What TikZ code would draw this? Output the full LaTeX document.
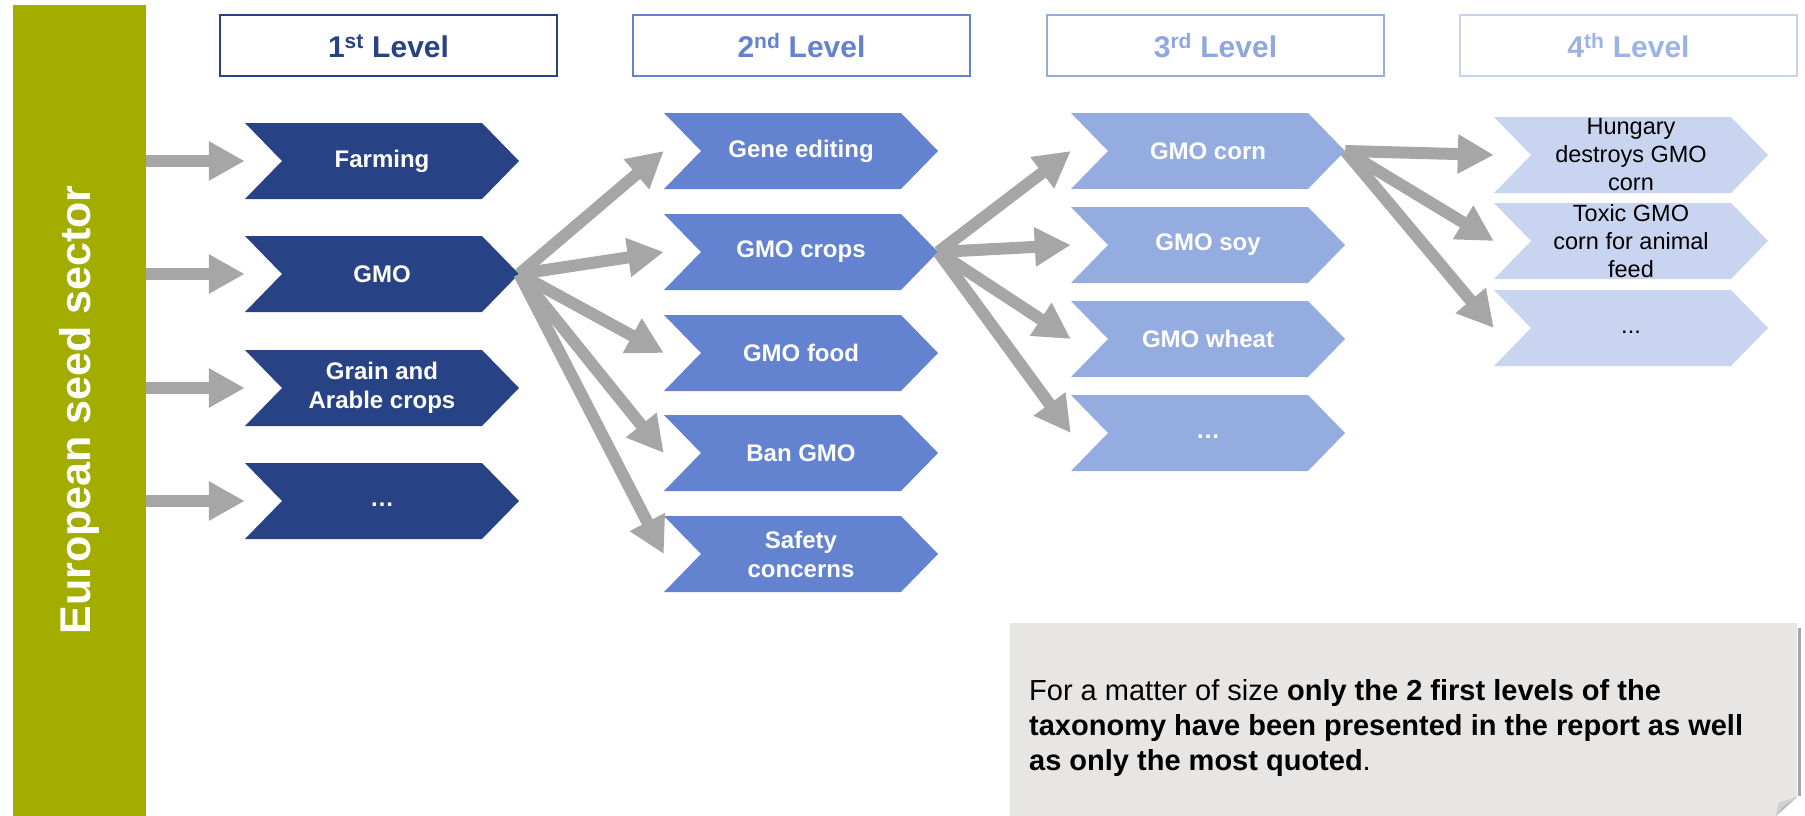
\documentclass[tikz,border=0pt]{standalone}
\usepackage{fontspec}
\setmainfont{Liberation Sans}
\usetikzlibrary{arrows.meta}
\definecolor{seedgreen}{HTML}{A3AD00}
\definecolor{lvA}{HTML}{284385}
\definecolor{lvB}{HTML}{6383D1}
\definecolor{lvC}{HTML}{95ACE0}
\definecolor{lvD}{HTML}{C9D5F0}
\definecolor{hdC}{HTML}{8FA7DF}
\definecolor{hdD}{HTML}{9DB3E5}
\definecolor{hdDb}{HTML}{C5D3F1}
\definecolor{arrgray}{HTML}{A6A6A6}
\definecolor{notegray}{HTML}{E7E6E5}
\newcommand\chev[6]{%
  \fill[#4] (#2,#3) -- ({#2+237},#3) -- ({#2+274},{#3+38}) -- ({#2+237},{#3+76}) -- (#2,{#3+76}) -- ({#2+37},{#3+38}) -- cycle;
  \node[chevtext,#5] (#1) at ({#2+137},{#3+38}) {#6};}
\begin{document}
\begin{tikzpicture}[x=1pt,y=-1pt,
  lvlhead/.style={draw=#1, line width=2pt, fill=white, minimum width=337pt, minimum height=61pt, inner sep=0pt,
    font=\fontsize{30}{36}\selectfont\bfseries},
  chevtext/.style={minimum width=274pt, minimum height=76pt, inner sep=0pt, align=center,
    font=\fontsize{24}{29}\selectfont\bfseries, text=white},
  lastlvl/.style={text=black, font=\fontsize{23.5}{28}\selectfont},
  arr/.style={draw=arrgray, line width=12pt, -{Triangle[length=36pt,width=37pt]}},
]
\useasboundingbox (0,0) rectangle (1805,816);

% green sector bar
\node[fill=seedgreen, minimum width=133pt, minimum height=811pt, inner sep=0pt, anchor=north west] (bar) at (13,5) {};
\node[rotate=90, text=white, font=\fontsize{43}{50}\selectfont\bfseries] (barlabel) at (79.5,410) {European seed sector};

% level headers
\node[lvlhead=lvA, text=lvA] (h1) at (388.5,46) {1\textsuperscript{st} Level};
\node[lvlhead=lvB, text=lvB] (h2) at (801.5,46) {2\textsuperscript{nd} Level};
\node[lvlhead=lvC, text=hdC] (h3) at (1215.5,46) {3\textsuperscript{rd} Level};
\node[lvlhead=hdDb, text=hdD] (h4) at (1628.5,46) {4\textsuperscript{th} Level};

% level 1
\chev{a1}{245}{123}{lvA}{}{Farming}
\chev{a2}{245}{236}{lvA}{}{GMO}
\chev{a3}{245}{350}{lvA}{}{Grain and\\Arable crops}
\chev{a4}{245}{463}{lvA}{}{\vphantom{Ay}…}

% level 2
\chev{b1}{664}{113}{lvB}{}{Gene editing}
\chev{b2}{664}{214}{lvB}{}{GMO crops}
\chev{b3}{664}{315}{lvB}{}{GMO food}
\chev{b4}{664}{415}{lvB}{}{Ban GMO}
\chev{b5}{664}{516}{lvB}{}{Safety\\concerns}

% level 3
\chev{c1}{1071}{113}{lvC}{}{GMO corn}
\chev{c2}{1071}{207}{lvC}{}{GMO soy}
\chev{c3}{1071}{301}{lvC}{}{GMO wheat}
\chev{c4}{1071}{395}{lvC}{}{\vphantom{Ay}…}

% level 4
\chev{d1}{1494}{117}{lvD}{lastlvl}{Hungary\\destroys GMO\\corn}
\chev{d2}{1494}{203}{lvD}{lastlvl}{Toxic GMO\\corn for animal\\feed}
\chev{d3}{1494}{290}{lvD}{lastlvl}{\vphantom{Ay}...}

% connectors
\foreach \t in {a1,a2,a3,a4} {\draw[arr] (bar.east |- \t.west) -- (\t.west);}
\foreach \t in {b1,b2,b3,b4,b5} {\draw[arr] (a2.east) -- (\t.west);}
\foreach \t in {c1,c2,c3,c4} {\draw[arr] (b2.east) -- (\t.west);}
\foreach \t in {d1,d2,d3} {\draw[arr] (c1.east) -- (\t.west);}

% note
\draw[black!35, line width=3pt] (1799.5,628) -- (1799.5,796);
\fill[notegray] (1010,623) -- (1797,623) -- (1797,797) -- (1776,816) -- (1010,816) -- cycle;
\fill[black!30] (1797,797) -- (1776,816) -- (1779,803) -- cycle;
\fill[black!18] (1797,797) -- (1779,803) -- (1776,816) -- (1783,807) -- cycle;
\node[anchor=north west, align=left, inner sep=0pt, font=\fontsize{29}{35}\selectfont] (note) at (1029,679)
  {For a matter of size \textbf{only the 2 first levels of the}\\
   \textbf{taxonomy have been presented in the report as well}\\
   \textbf{as only the most quoted}.};
\end{tikzpicture}
\end{document}
